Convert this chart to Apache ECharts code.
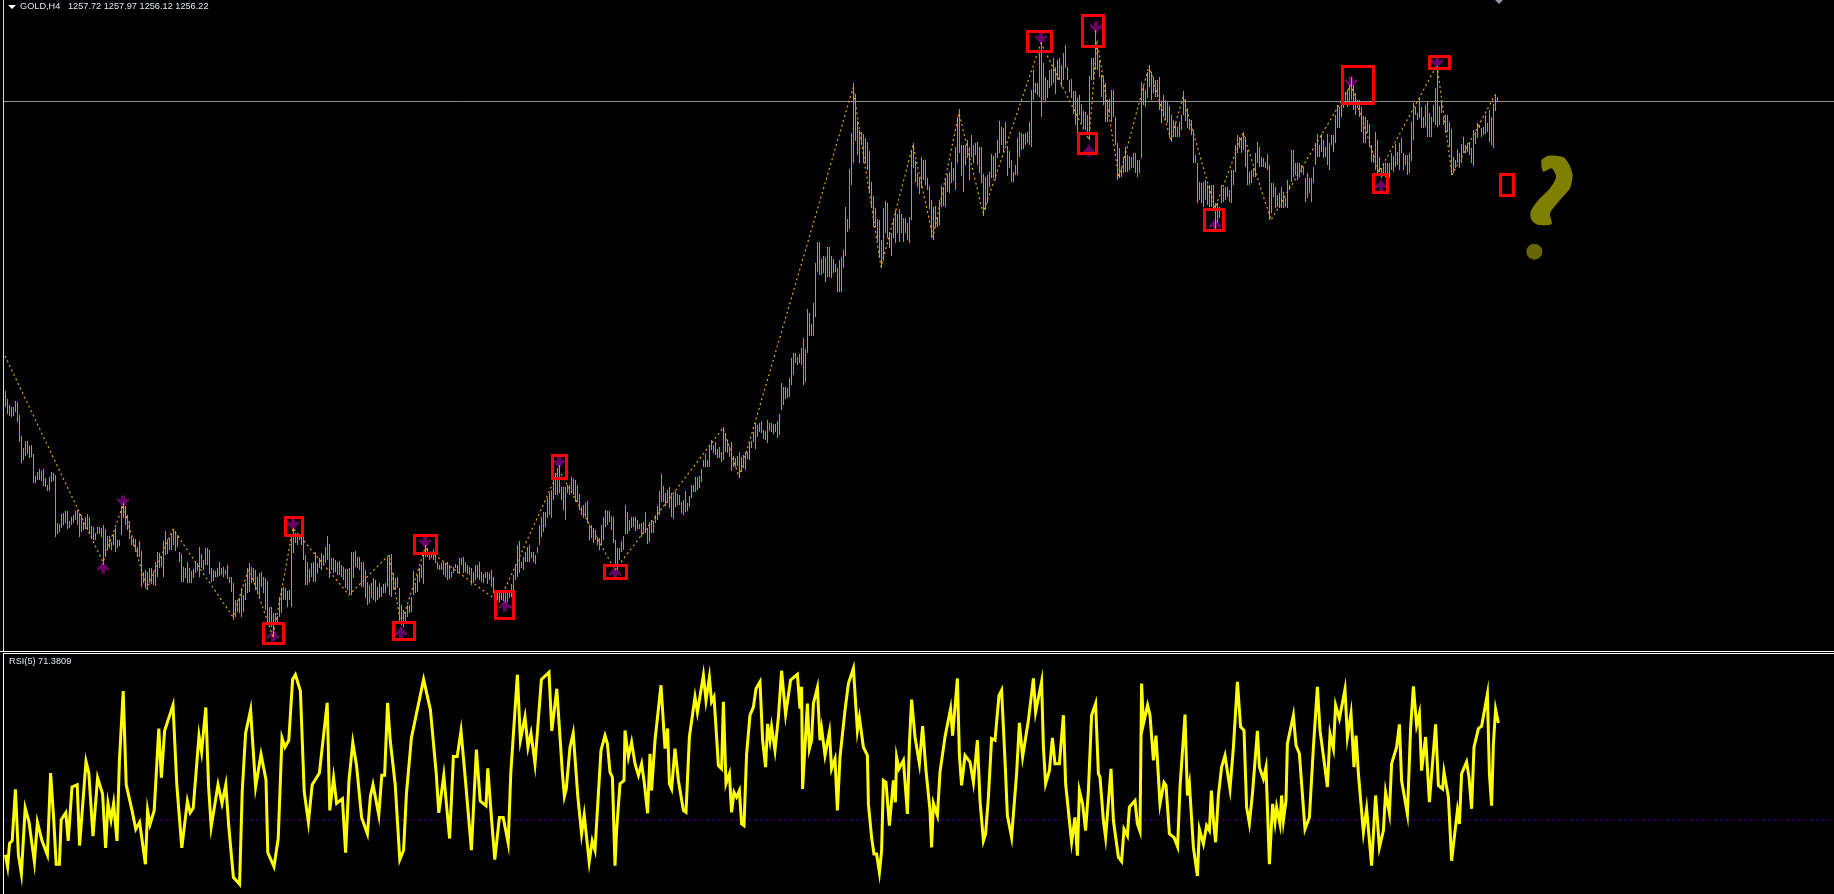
<!DOCTYPE html>
<html><head><meta charset="utf-8">
<style>html,body{margin:0;padding:0;background:#000;overflow:hidden}#c{width:1834px;height:894px}</style>
<script src="https://cdn.jsdelivr.net/npm/echarts@6/dist/echarts.min.js"></script>
</head><body><div id="c"></div>
<script>
const barHigh=[967,959,953,951,951,957,956,943,922,910,917,917,912,913,904,882,886,889,887,889,880,873,881,886,885,883,835,834,844,845,847,847,837,841,843,847,848,845,843,836,841,844,841,832,831,825,831,831,830,833,829,822,822,816,824,830,818,818,852,855,852,843,837,822,820,819,811,817,807,786,788,786,790,790,787,796,806,805,801,817,827,819,820,825,829,827,823,806,804,791,790,796,790,787,789,796,795,811,804,798,810,810,808,790,788,787,790,796,790,791,788,793,781,781,775,758,758,760,770,763,775,790,795,791,790,788,781,785,786,781,780,777,751,751,745,745,742,761,770,771,770,767,768,821,830,825,825,821,
821,821,803,796,789,795,796,806,795,800,805,803,811,822,814,800,800,798,796,797,793,791,789,789,790,806,806,807,801,801,796,796,788,776,773,775,780,778,771,775,771,774,775,801,803,804,785,780,781,770,753,748,746,753,753,761,787,775,783,790,793,803,813,810,806,806,809,805,796,793,795,796,795,796,793,786,791,794,793,800,800,801,796,793,791,790,786,793,793,796,786,784,786,786,785,788,781,768,765,765,765,765,766,765,765,774,783,793,813,817,796,801,806,811,813,806,806,803,811,833,841,846,846,860,865,868,883,885,890,893,871,871,871,873,873,881,879,878,873,864,851,853,855,857,833,833,830,828,821,820,833,841,848,847,847,842,841,818,810,810,
817,822,853,846,838,841,841,841,838,834,835,836,846,830,836,838,837,843,852,867,884,872,865,868,871,865,863,867,864,863,856,858,867,855,862,873,873,881,881,882,889,898,904,898,913,918,913,916,909,911,906,931,925,918,912,916,902,900,902,906,901,903,906,906,916,917,926,935,933,935,937,928,927,938,935,935,934,934,937,944,
975,971,971,970,980,1000,1005,1005,1001,1004,1010,1020,1009,1049,1045,1034,1055,1095,1116,1116,1099,1102,1101,1111,1111,1102,1099,1094,1090,1098,1101,1108,1151,1139,1189,1225,1275,1264,1237,1228,1226,1224,1220,1216,1207,1176,1162,1150,1139,1138,1118,1150,1157,1155,1126,1125,1139,1148,1144,1149,1144,1140,1140,1135,1141,1208,1215,1197,1185,1181,1201,1198,1198,1180,1172,1158,1151,1152,1141,1158,1172,1171,1180,1184,1186,1196,1190,1211,1241,1249,1213,1213,1213,1218,1211,1223,1213,1215,1216,1211,1211,1184,1181,1183,1186,1204,1202,1205,1218,1237,1231,1230,1236,1212,1207,1198,1186,1193,1220,1226,
1225,1224,1225,1226,1236,1268,1288,1275,1275,1308,1316,1295,1281,1278,1288,1289,1300,1291,1298,1300,1293,1305,1313,1291,1278,1279,1267,1267,1260,1263,1254,1247,1246,1243,1282,1300,1300,1328,1310,1298,1283,1282,1275,1258,1259,1268,1268,1241,1215,1210,1191,1201,1211,1203,1202,1201,1205,1205,1198,1198,1276,1273,1268,1286,1293,1286,1281,1278,1278,1281,1256,1263,1258,1256,1252,1243,1238,1236,1231,1236,1243,1267,1259,1250,1239,1238,1228,1203,1195,1176,1175,1176,1178,1173,1173,1173,1173,1155,1155,1151,1173,1170,1171,1171,1168,1188,1188,1213,1223,1221,1221,1226,1221,1208,1186,1188,1190,1205,1216,1211,1201,1200,1196,1204,1193,1175,1175,1171,1163,1165,1171,1166,1160,1178,1173,1208,1208,1195,1195,1195,1193,1191,1180,1185,1180,1180,1191,1215,1224,1213,
1224,1218,1211,1224,1215,1223,1223,1243,1253,1251,1261,1258,1266,1268,1273,1281,1273,1265,1258,1258,1251,1242,1241,1238,1234,1213,1204,1226,1218,1201,1190,1195,1195,1195,1195,1205,1202,1214,1206,1215,1220,1205,1203,1203,1205,1236,1255,1251,1245,1260,1251,1241,1253,1256,1245,1241,1253,1270,1288,1252,1258,1241,1243,1243,1236,1229,1201,1198,1209,1205,1214,1221,1213,1215,1216,1210,1228,1226,1235,1233,1230,1231,1243,1235,1248,1241,1254,1264,1261];
const barLow=[951,944,942,941,942,946,936,916,895,898,902,904,900,901,875,875,878,878,877,872,871,867,867,876,877,821,824,826,830,833,835,829,830,833,835,838,833,821,826,828,829,828,825,819,818,818,824,824,821,793,801,808,810,808,813,806,810,812,823,840,833,828,819,813,812,806,801,801,771,775,770,768,775,774,773,772,781,790,791,781,803,804,808,808,813,807,811,796,776,776,780,775,775,775,780,785,787,781,790,788,793,793,784,776,777,781,781,782,783,781,783,779,775,766,738,741,746,745,741,746,758,765,766,775,776,768,766,761,771,765,748,736,735,731,721,735,733,741,745,758,758,751,758,751,805,815,813,818,
813,798,773,773,776,781,776,776,785,790,788,793,795,798,780,788,785,786,783,783,781,778,770,768,763,763,780,791,790,788,771,771,760,753,755,760,758,756,758,760,761,765,765,771,763,761,768,768,770,736,733,731,736,741,745,746,763,765,766,776,780,774,801,801,798,800,798,795,789,788,788,783,781,778,779,781,785,790,785,785,793,785,786,784,783,773,775,778,780,778,776,775,780,774,778,771,765,761,758,756,758,757,755,756,760,761,768,778,781,785,790,788,796,796,796,800,796,794,805,813,821,826,831,840,843,840,858,863,863,865,858,848,838,865,863,866,863,856,856,848,843,840,841,835,818,820,815,818,813,808,813,818,831,833,836,828,815,791,788,798,
806,808,824,824,827,830,831,827,829,829,821,824,825,814,816,825,825,835,838,843,856,856,852,855,850,841,839,851,853,853,845,843,846,847,851,860,866,866,868,870,876,891,891,891,891,908,905,903,900,900,896,898,906,905,901,887,891,891,892,880,886,890,888,899,898,910,916,909,921,926,925,919,918,915,927,926,924,926,920,923,
948,953,959,960,961,973,983,995,993,995,993,973,976,1005,1022,1022,1022,1041,1086,1083,1083,1085,1076,1081,1081,1080,1085,1086,1066,1066,1066,1090,1102,1126,1129,1173,1195,1217,1203,1195,1213,1195,1195,1188,1166,1150,1131,1131,1117,1100,1090,1097,1125,1120,1110,1102,1120,1115,1125,1116,1125,1116,1125,1118,1115,1138,1190,1176,1171,1164,1170,1178,1173,1168,1149,1120,1118,1131,1131,1133,1151,1152,1151,1166,1165,1175,1177,1168,1195,1205,1182,1166,1193,1200,1178,1201,1195,1203,1193,1185,1175,1142,1148,1155,1171,1180,1180,1178,1200,1205,1213,1206,1213,1182,1190,1176,1176,1183,1183,1201,
1208,1209,1213,1215,1213,1211,1258,1265,1263,1261,1241,1258,1256,1260,1270,1272,1275,1264,1278,1278,1271,1278,1290,1278,1266,1260,1244,1233,1226,1243,1235,1230,1228,1226,1218,1278,1278,1288,1288,1281,1261,1253,1236,1236,1245,1236,1241,1213,1178,1180,1181,1185,1186,1186,1188,1190,1190,1185,1181,1185,1200,1253,1251,1260,1271,1258,1265,1261,1261,1248,1235,1241,1238,1235,1220,1216,1221,1221,1221,1221,1228,1243,1237,1230,1228,1223,1195,1195,1155,1158,1155,1151,1158,1153,1151,1151,1150,1128,1135,1140,1155,1156,1158,1161,1156,1155,1173,1186,1205,1210,1205,1208,1191,1173,1173,1175,1181,1181,1195,1191,1191,1191,1190,1188,1138,1145,1161,1150,1151,1150,1150,1150,1151,1150,1168,1176,1181,1183,1178,1181,1185,1183,1156,1160,1165,1156,1175,1193,1201,1201,
1206,1200,1201,1193,1188,1213,1206,1215,1230,1230,1241,1250,1253,1251,1256,1258,1248,1243,1250,1241,1226,1215,1215,1225,1211,1196,1195,1188,1185,1186,1180,1185,1181,1185,1180,1188,1186,1191,1193,1188,1205,1188,1193,1183,1185,1197,1218,1243,1238,1240,1230,1230,1231,1221,1221,1221,1236,1233,1231,1233,1245,1233,1225,1226,1211,1183,1185,1190,1195,1190,1195,1205,1205,1206,1203,1195,1192,1214,1220,1230,1221,1223,1224,1226,1216,1213,1210,1247,1256];
const zigBars=[0.5,49.5,59.5,71.5,84.5,114.5,122.5,134.5,144.5,172.5,192.5,198.5,210.5,247.5,277.5,305.5,359.5,367.5,424.5,438.5,454.5,464.5,477.5,489.5,518.5,542.5,546.5,557.5,572.5,583.5,589.5,605.5,619.5,633.5,673.5,687.5,716.5,724,745.5];
const zigPrices=[1002,796,853,769,829,741,790,721,830,763,803,733,810,756,888,788,930,881,1270,1091,1213,1121,1245,1145,1315,1218,1318,1180,1292,1218,1261,1150,1225,1138,1273,1186,1293,1183,1263];
const upBars=[49.5,134.5,198.5,250.5,305.5,542.5,605.5,688.5];
const upPrices=[791,723,726,753,786,1208,1134,1173];
const downBars=[59.5,144.5,210.5,277.5,518.5,546,673.5,716.5];
const downPrices=[856,833,815,895,1319,1330,1275,1295];
const boxLeft=[129.75,140.75,194.75,205.25,245.75,274.25,300.25,511.75,539.25,537.25,600.25,669.25,684.75,712.75,748.25];
const boxRight=[139.75,149.25,205.25,216.25,254.75,281.25,311.25,523.75,549.75,546.25,609.75,684.75,691.75,722.75,754.75];
const boxTop=[734.5,840.5,735.5,822.5,766.5,902.5,792.5,1326.5,1342.5,1224.5,1148.5,1291.5,1183.5,1301.5,1183.5];
const boxBottom=[714.5,822.5,718.5,804.5,739.5,879.5,779.5,1306.5,1311.5,1204.5,1127.5,1254.5,1165.5,1289.5,1162.5];
const questionX=[768.8,772.2,779.7,782.7,784.3,783,778,773,773.8,767.2,763.8,763.3,767.2,773,776,773.8,769.7,768.8];
const questionY=[1198,1202.3,1200.7,1193,1183,1169.7,1158,1144.7,1134,1133,1138,1146.3,1158,1169.7,1181.3,1189.7,1186.3,1191.3];
const questionDot=[765.2,1106.3];
const priceLine=1256.5;
const rsiLevel=30;
const rsiBars=[0.7,1.8,2.8,4.1,5.7,7.2,8.7,10.6,12.5,15.2,16.7,19,21.7,23.3,24.8,26.1,27.7,28.6,30.9,32.1,34,36.6,37.8,41,42.4,44.5,46.8,49.3,50.8,52,53.5,54.8,56.5,57.7,59.6,61.1,64,65.9,67.8,70.7,71.8,73,75.1,77.4,78.7,80.3,84.5,86.4,88.9,91.7,93.1,94.6,97.5,98.8,100.9,102.3,103.6,107,109,110.9,112.4,114.7,117.8,119.1,120.8,123.3,125.8,128.5,131,131.9,135,137.1,139,140.5,142.4,144.3,145.7,148.2,150.1,152.2,154.1,157.7,161.6,162.9,164.8,166.3,169.2,170.8,172.5,174.4,176.3,178.8,181.7,183.2,184.5,187.4,188.9,190.3,191.8,193.1,195.6,197.9,199.8,201.2,203.7,209.8,213.2,216.1,217.4,219.9,222.8,224.7,226.6,228.5,230.4,233.7,236.2,238.1,241,241.9,243.8,245.4,247.7,249.6,252.1,253.4,256.7,258.2,260.5,262,263.5,265.5,268.7,272.5,273.9,276.4,279.2,280.2,281.1,283,284.6,286.9,288.8,290.1,292.6,294.1,295.5,
298.5,300.5,301.7,303,304.2,305.5,306.3,308,310,310.5,312.2,313.8,315.5,317.2,318.8,320.2,321.8,323,323.8,325.5,328.5,330.5,331.8,332.7,333.8,335.5,337.2,339.7,341,342.7,345.5,346.7,349.7,351,352.7,353.8,355,356.3,357.2,358.8,359.7,361,362.7,363.8,365,366.3,367.7,368.8,370,371.3,373,374.7,376,378,379.3,380.8,381.8,383,383.8,385.5,387.2,388.8,390.8,393.3,396.7,398,398.8,399.3,401.7,402.7,403.8,404.7,406.7,408,408.8,410.5,412.7,413.8,415.5,416.7,418,420.5,422.2,424.7,426.7,427.7,429.7,431.7,432.2,433.8,435,436.3,437.7,438.8,439.7,441,442.7,444.7,445.7,446.3,447.5,449.7,451.7,452.7,453.8,455.5,457.7,459.3,461,463,463.8,464.7,466.7,468,470.5,473.3,474.3,476.7,477.7,478.8,480.5,483,484.7,486.7,488,489.7,490.8,492.2,493.8,495.5,497.5,498.8,500.5,501.7,503.8,506.3,507.7,509.3,512.2,514.7,515.8,518.8,519.7,520.8,522.7,524.2,525.5,527.7,529.7,530.8,533.8,535.5,536.7,537.7,539.3,540.8,542.2,543.8,545.8,547.2,
548,549.7,550.8,553.5,554.7,557.2,558.8,560,561.7,562.7,565.5,566.7,568,568.8,569.7,571.8,573,574.7,576,578,580,581,582.7,585,586.8,588,590.5,591.7,592.7,594.7,596.7,597.7,599.7,601.3,602.7,603.7,604.7,605.8,607.2,608.8,610.5,613,614.7,616.7,618.3,620,621.3,622.7,624.3,626.7,627.7,629.7,631,632.7,634.3,635.5,636.3,638,638.8,639.7,641,641.7,644.7,646,647.7,650.5,652.7,654.7,656.7,658,660,661.7,663,664.7,665.8,667.7,670.5,671.7,673.5,675,676,677.2,679.7,681.3,683.8,685.8,687.7,689.7,690.8,692.7,693.8,696.3,697.7,698.8,701.7,703.3,704.7,706.3,707.7,708.8,710.8,712.7,715.8,717.2,719.3,720,722.2,723.8,726.7,727.7,728.8,731.3,732.5,733.8,735,737.2,738.8,741.7,742.7,743.8,744.7,745.8,747.2];
const rsiValues=[15,10,20,21,43,15,7,35,29,12,29,21,15,50,31,11,11,30,33,21,44,45,19,55,50,23,48,41,18,37,30,37,21,55,85,45,34,26,29,11,34,28,34,69,48,68,79,45,18,38,33,35,66,59,78,44,27,45,37,45,27,5.4,2.5,42,67,77,44,58,47,16,10,22,65,61,64,90,92,85,42,29,45,50,80,34,48,37,39,16,47,63,53,31,24,40,45,32,49,49,80,64,45,13,17,41,65,90,77,50,33,49,22,57,57,68,50,17,60,38,36,52,30,13,31,31,20,50,92,64,74,61,67,54,90,93,68,86,50,40,43,61,67,40,24,32,12,21,17,
59.7,66,62.5,50.4,48.2,10.4,25.4,45.4,46.8,68.2,56.8,63.2,54,49,54,45.4,32.8,58.2,42.5,64,87.5,60.4,69,45.4,43.2,60.4,46.8,34,33.2,65.4,82.5,76,91.8,81,90.8,80.4,82.5,65.4,53.2,51.8,80.4,45.4,49.7,33.2,41.8,39.7,42.5,28.2,27.5,58.2,74.7,78.2,86,89,64,52.5,71,64,69.7,59.7,74,93.7,75,89.7,92.2,77.5,86.8,43.2,79.7,60.4,64,79.7,86.5,64,69,57.5,67.5,51.8,56,34,56.8,76.8,88.2,94.7,68.2,73.7,61,57.5,36.8,22.5,15.4,15.4,7.5,16.8,46.8,46,27.5,46.8,37.5,56.8,51.8,55.4,32.5,62.5,81.4,65.4,54,70,51,34,18.2,37,31.8,50.4,65.4,77.5,66,90.4,57.5,44.7,57.5,54.7,46,64,38.2,21,24,39.7,64.7,64,83.2,85.4,55.4,31.8,22.5,49.7,71.4,56.8,72.5,90.4,76,89,61,45.4,51,65,54,54,74.7,45.4,20.4,31,14.7,42.5,36.8,25.4,42.5,74.7,79.7,49.7,
48.2,29.7,22.5,51.8,29.7,14,12.2,26,23.2,35.4,38.2,28.2,25,88.2,71,79,74.7,55.4,66,36.8,46,44.7,24,22.5,18.5,44,75,40.4,45.4,18.2,6,26,19.7,27.5,25.4,42.5,29.7,20.4,40.4,52.5,57.5,43.2,61,89,69.7,68.2,35.4,28.5,41.8,68,52.5,47.5,52.5,11,36.8,29,35.4,28.2,40.4,29.7,38.2,62.5,74.7,61.8,58.2,26,31,61,86.8,68.2,55.4,44,66.8,60.4,79,73.2,85.8,65.4,75.4,52.5,66,49.7,24.7,34.7,10.4,40.4,18.2,25.4,41.8,32.8,54,61,70.8,46.8,32.5,69,87,70.4,75.4,51,65.4,37.5,70.8,44.7,43.2,50.4,39.7,12.5,34,28.2,49.7,54.7,48.2,34.7,61,69,70,83.7,49.7,36,62.5,77.2,71.38];
const headerSymbol='GOLD,H4';
const headerPrices='1257.72 1257.97 1256.12 1256.22';
const rsiLabel='RSI(5) 71.3809';

const zip=(a,b)=>a.map((v,i)=>[v,b[i]]);
const arrowUp='path://M6 0 L7.5 3 L12 8 L12 10.5 L8 8.5 L8 13 L4 13 L4 8.5 L0 10.5 L0 8 L4.5 3 Z';
const arrowDown='path://M4 0 L8 0 L8 4.5 L12 2.5 L12 5 L7.5 10 L6 13 L4.5 10 L0 5 L0 2.5 L4 4.5 Z';
const chart=echarts.init(document.getElementById('c'),null,{renderer:'canvas'});
const xAx=i=>({type:'value',gridIndex:i,min:0,max:915,show:false});
chart.setOption({
  animation:false,backgroundColor:'#000',
  grid:[{left:4,right:0,top:0,height:651},{left:4,right:0,top:656,height:234}],
  xAxis:[xAx(0),xAx(1)],
  yAxis:[{type:'value',gridIndex:0,min:707,max:1358,show:false},{type:'value',gridIndex:1,min:0,max:100,show:false}],
  graphic:[
    {type:'rect',shape:{x:3,y:0,width:1,height:651},style:{fill:'#d8d8d8'},silent:true},
    {type:'rect',shape:{x:3,y:654,width:1,height:240},style:{fill:'#ffffff'},silent:true},
    {type:'rect',shape:{x:0,y:651,width:1834,height:1},style:{fill:'#ffffff'},silent:true},
    {type:'rect',shape:{x:3,y:653,width:1831,height:1},style:{fill:'#ffffff'},silent:true},
    {type:'polygon',shape:{points:[[8,5],[16,5],[12,9]]},style:{fill:'#ffffff'},silent:true},
    {type:'polygon',shape:{points:[[1495,0],[1503,0],[1499,4]]},style:{fill:'#8a98a8'},silent:true},
    {type:'text',x:20,y:2,style:{text:headerSymbol,fill:'#dfe8f0',font:'9.2px "Liberation Sans"'},silent:true},
    {type:'text',x:68,y:2,style:{text:headerPrices,fill:'#dfe8f0',font:'9.2px "Liberation Sans"'},silent:true},
    {type:'text',x:9,y:657,style:{text:rsiLabel,fill:'#dfe8f0',font:'9.2px "Liberation Sans"'},silent:true}
  ],
  series:[
    {type:'line',xAxisIndex:0,yAxisIndex:0,data:[[0,priceLine],[915,priceLine]],showSymbol:false,silent:true,z:1,lineStyle:{color:'#8a8f98',width:1}},
    {type:'scatter',xAxisIndex:0,yAxisIndex:0,data:zip(upBars,upPrices),symbol:arrowUp,symbolSize:[12,13],silent:true,z:2,itemStyle:{color:'#800080'}},
    {type:'scatter',xAxisIndex:0,yAxisIndex:0,data:zip(downBars,downPrices),symbol:arrowDown,symbolSize:[12,13],silent:true,z:2,itemStyle:{color:'#800080'}},
    {type:'custom',xAxisIndex:0,yAxisIndex:0,silent:true,z:3,clip:false,
      data:barHigh.map((h,i)=>[i+0.5,h,barLow[i]]),
      encode:{x:0,y:[1,2]},
      renderItem(p,api){
        const a=api.coord([api.value(0),api.value(1)]),b=api.coord([api.value(0),api.value(2)]);
        return {type:'rect',shape:{x:Math.round(a[0]),y:Math.round(a[1]),width:1,height:Math.max(1,Math.round(b[1]-a[1]))},style:{fill:'#20e820'}};
      }},
    {type:'line',xAxisIndex:0,yAxisIndex:0,data:zip(zigBars,zigPrices),showSymbol:false,silent:true,z:4,lineStyle:{color:'#e5a50f',width:1.2,type:[2,3]}},
    {type:'custom',xAxisIndex:0,yAxisIndex:0,silent:true,z:5,clip:false,
      data:boxLeft.map((l,i)=>[l,boxRight[i],boxTop[i],boxBottom[i]]),
      encode:{x:[0,1],y:[2,3]},
      renderItem(p,api){
        const a=api.coord([api.value(0),api.value(2)]),b=api.coord([api.value(1),api.value(3)]);
        return {type:'rect',shape:{x:a[0],y:a[1],width:b[0]-a[0],height:b[1]-a[1]},style:{fill:'none',stroke:'#ff0000',lineWidth:3}};
      }},
    {type:'custom',xAxisIndex:0,yAxisIndex:0,silent:true,z:5,clip:false,
      data:[0],
      renderItem(p,api){
        return {type:'polygon',shape:{points:questionX.map((x,i)=>api.coord([x,questionY[i]])),smooth:0.25},style:{fill:'#808000'}};
      }},
    {type:'scatter',xAxisIndex:0,yAxisIndex:0,data:[questionDot],symbol:'circle',symbolSize:16,silent:true,z:5,itemStyle:{color:'#808000'}},
    {type:'line',xAxisIndex:1,yAxisIndex:1,data:[[0,rsiLevel],[915,rsiLevel]],showSymbol:false,silent:true,z:1,lineStyle:{color:'#4b0090',width:1,type:[3,3]}},
    {type:'line',xAxisIndex:1,yAxisIndex:1,data:zip(rsiBars,rsiValues),showSymbol:false,silent:true,z:3,smooth:false,lineStyle:{color:'#ffff00',width:3,join:'miter'}}
  ]
});
</script></body></html>
